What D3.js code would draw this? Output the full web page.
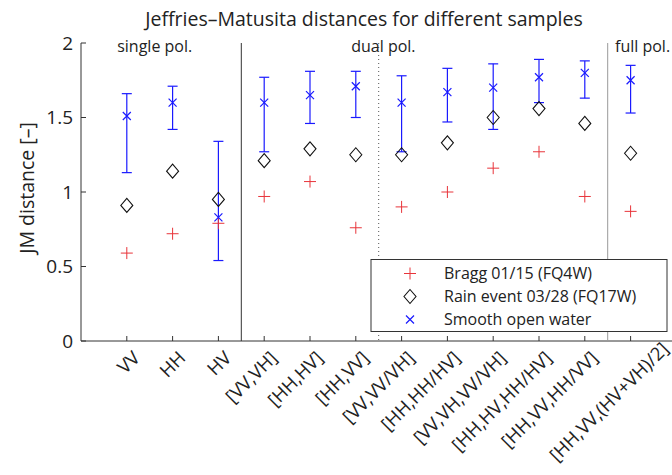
<!DOCTYPE html>
<html lang="en">
<head>
  <meta charset="UTF-8">
  <script src="https://d3js.org/d3.v7.min.js"></script>
  <title>JM distances</title>
  <style>
    body { margin: 0; background: #fff; }
    svg text { font-family: "Open Sans", sans-serif; fill: #222; }
  </style>
</head>
<body>
  <svg id="chart" width="672" height="475"></svg>
  <script>
    const categories = ['VV', 'HH', 'HV', '[VV,VH]', '[HH,HV]', '[HH,VV]', '[VV,VV/VH]',
      '[HH,HH/HV]', '[VV,VH,VV/VH]', '[HH,HV,HH/HV]', '[HH,VV,HH/VV]', '[HH,VV,(HV+VH)/2]'];
    const bragg = [0.59, 0.72, 0.79, 0.97, 1.07, 0.76, 0.90, 1.00, 1.16, 1.27, 0.97, 0.87];
    const rain = [0.91, 1.14, 0.95, 1.21, 1.29, 1.25, 1.25, 1.33, 1.50, 1.56, 1.46, 1.26];
    const smooth = [1.51, 1.60, 0.83, 1.60, 1.65, 1.71, 1.60, 1.67, 1.70, 1.77, 1.80, 1.75];
    const smoothHigh = [1.66, 1.71, 1.34, 1.77, 1.81, 1.81, 1.78, 1.83, 1.86, 1.89, 1.88, 1.85];
    const smoothLow = [1.13, 1.42, 0.54, 1.27, 1.46, 1.50, 1.27, 1.47, 1.42, 1.60, 1.63, 1.53];
    const yTicks = [0, 0.5, 1, 1.5, 2];
    // group label positions in category units
    const groups = [
      { name: 'single pol.', at: 0.79 },
      { name: 'dual pol.', at: 5.9 },
      { name: 'full pol.', at: 11.66 }
    ];
    const separators = [
      { at: 3.5, style: 'solid', color: '#333' },
      { at: 6.5, style: 'dotted', color: '#555' },
      { at: 11.5, style: 'solid', color: '#999' }
    ];
    const legendItems = ['Bragg 01/15 (FQ4W)', 'Rain event 03/28 (FQ17W)', 'Smooth open water'];

    const svg = d3.select('#chart');
    const plotL = 81, plotT = 43, plotB = 341;
    const x = d3.scaleLinear().domain([0, 12.5]).range([plotL, plotL + 12.5 * 45.8]);
    const y = d3.scaleLinear().domain([0, 2]).range([plotB, plotT]);

    // title
    svg.append('text')
      .attr('x', 364).attr('y', 26)
      .attr('text-anchor', 'middle')
      .style('font-size', '19.5px')
      .text('Jeffries\u2013Matusita distances for different samples');

    // axes lines
    svg.append('line')
      .attr('x1', plotL).attr('x2', 672).attr('y1', plotB).attr('y2', plotB)
      .attr('stroke', '#333');
    svg.append('line')
      .attr('x1', plotL).attr('x2', plotL).attr('y1', plotT).attr('y2', plotB)
      .attr('stroke', '#333');

    // y ticks
    const yt = svg.append('g');
    yTicks.forEach(t => {
      yt.append('line')
        .attr('x1', plotL).attr('x2', plotL + 5).attr('y1', y(t)).attr('y2', y(t))
        .attr('stroke', '#333');
      yt.append('text')
        .attr('x', plotL - 8).attr('y', y(t)).attr('dy', '0.36em')
        .attr('text-anchor', 'end')
        .style('font-size', '19px')
        .text(t);
    });

    svg.append('text')
      .attr('transform', `translate(34,188) rotate(-90)`)
      .attr('text-anchor', 'middle')
      .style('font-size', '19.5px')
      .text('JM distance [\u2013]');

    // x ticks and labels
    categories.forEach((c, i) => {
      const px = x(i + 1);
      const last = i === categories.length - 1;
      svg.append('line')
        .attr('x1', px).attr('x2', px).attr('y1', plotB).attr('y2', plotB - 5)
        .attr('stroke', '#333');
      svg.append('text')
        .attr('transform', `translate(${px + 5 + (last ? 25 : 0)},${plotB + 9 - (last ? 9 : 0)}) rotate(-45)`)
        .attr('text-anchor', 'end')
        .attr('dy', '0.7em')
        .style('font-size', '18.5px')
        .text(c);
    });

    // separators
    separators.forEach(s => {
      svg.append('line')
        .attr('x1', x(s.at)).attr('x2', x(s.at)).attr('y1', plotT).attr('y2', plotB)
        .attr('stroke', s.color)
        .attr('stroke-dasharray', s.style === 'dotted' ? '1,3' : null);
    });

    // group labels
    groups.forEach(g => {
      svg.append('text')
        .attr('x', x(g.at)).attr('y', 52)
        .style('font-size', '16px')
        .text(g.name);
    });

    // error bars
    const eb = svg.append('g').attr('stroke', '#1a1aff').attr('stroke-width', 1.2);
    smooth.forEach((v, i) => {
      const px = x(i + 1);
      eb.append('line').attr('x1', px).attr('x2', px)
        .attr('y1', y(smoothHigh[i])).attr('y2', y(smoothLow[i]));
      [smoothHigh[i], smoothLow[i]].forEach(e => {
        eb.append('line').attr('x1', px - 5).attr('x2', px + 5)
          .attr('y1', y(e)).attr('y2', y(e));
      });
    });

    const plus = (g, cx, cy) => g.append('path')
      .attr('d', `M${cx - 6},${cy}H${cx + 6}M${cx},${cy - 6}V${cy + 6}`)
      .attr('stroke', '#e8343a').attr('fill', 'none');
    const diamond = (g, cx, cy) => g.append('path')
      .attr('d', `M${cx},${cy - 7}L${cx + 6},${cy}L${cx},${cy + 7}L${cx - 6},${cy}Z`)
      .attr('stroke', '#111').attr('fill', 'none').attr('stroke-width', 1.1);
    const cross = (g, cx, cy) => g.append('path')
      .attr('d', `M${cx - 4},${cy - 4}L${cx + 4},${cy + 4}M${cx - 4},${cy + 4}L${cx + 4},${cy - 4}`)
      .attr('stroke', '#1a1aff').attr('fill', 'none').attr('stroke-width', 1.2);

    const marks = svg.append('g');
    bragg.forEach((v, i) => plus(marks, x(i + 1), y(v)));
    rain.forEach((v, i) => diamond(marks, x(i + 1), y(v)));
    smooth.forEach((v, i) => cross(marks, x(i + 1), y(v)));

    // legend
    const lg = svg.append('g');
    lg.append('rect')
      .attr('x', 371).attr('y', 259.5).attr('width', 296).attr('height', 72)
      .attr('fill', '#fff').attr('stroke', '#333');
    const markers = [plus, diamond, cross];
    legendItems.forEach((t, i) => {
      const ly = 273.5 + i * 23;
      markers[i](lg, 410, ly);
      lg.append('text')
        .attr('x', 444).attr('y', ly).attr('dy', '0.36em')
        .style('font-size', '16px')
        .text(t);
    });
  </script>
</body>
</html>
